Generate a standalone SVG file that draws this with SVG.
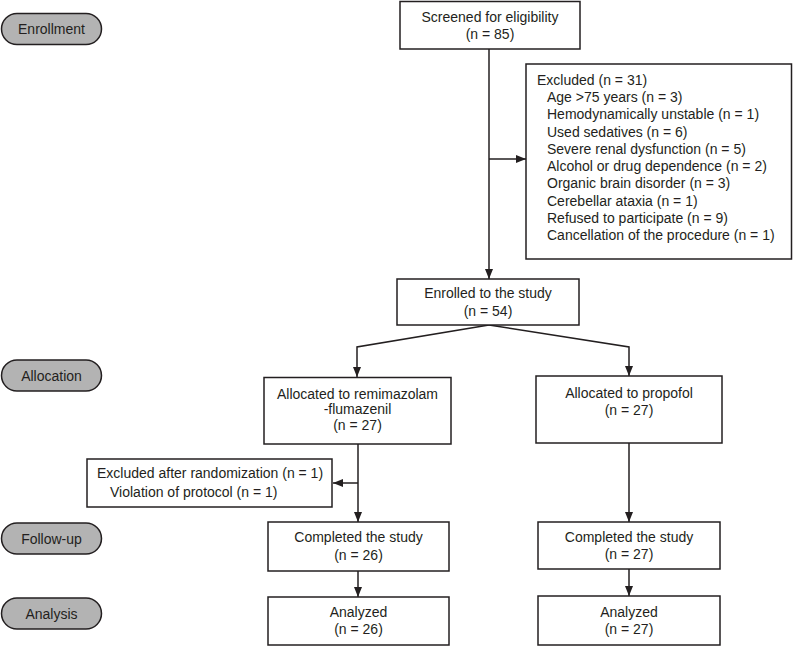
<svg xmlns="http://www.w3.org/2000/svg" width="793" height="648" viewBox="0 0 793 648">
<style>
text{font-family:"Liberation Sans",Arial,sans-serif;font-size:14px;fill:#231f20}
.c{text-anchor:middle}
.box{fill:#fff;stroke:#231f20;stroke-width:1.5}
.pill{fill:#b3b3b3;stroke:#231f20;stroke-width:1.5}
.ln{fill:none;stroke:#231f20;stroke-width:1.5}
</style>
<defs>
<marker id="ah" viewBox="0 0 10 8" refX="10" refY="4" markerWidth="10" markerHeight="8" markerUnits="userSpaceOnUse" orient="auto">
<path d="M0,0 L10,4 L0,8 Z" fill="#231f20"/>
</marker>
</defs>
<rect width="793" height="648" fill="#fff"/>
<g id="connectors">
<path class="ln" d="M489,49 V279" marker-end="url(#ah)"/>
<path class="ln" d="M489,159 H526" marker-end="url(#ah)"/>
<path class="ln" d="M489,325 L357,347 V377" marker-end="url(#ah)"/>
<path class="ln" d="M489,325 L629,347 V376" marker-end="url(#ah)"/>
<path class="ln" d="M358,444 V522" marker-end="url(#ah)"/>
<path class="ln" d="M358,483 H333" marker-end="url(#ah)"/>
<path class="ln" d="M629,443 V522" marker-end="url(#ah)"/>
<path class="ln" d="M358,571 V597" marker-end="url(#ah)"/>
<path class="ln" d="M629,569 V596" marker-end="url(#ah)"/>
</g>
<g id="pill-enrollment"><rect class="pill" x="1.5" y="13.5" width="100" height="31" rx="15.5"/><text class="c" x="51.5" y="34">Enrollment</text></g>
<g id="pill-allocation"><rect class="pill" x="1.5" y="360" width="100" height="31" rx="15.5"/><text class="c" x="51.5" y="380.5">Allocation</text></g>
<g id="pill-followup"><rect class="pill" x="1.5" y="523" width="100" height="31" rx="15.5"/><text class="c" x="51.5" y="543.5">Follow-up</text></g>
<g id="pill-analysis"><rect class="pill" x="1.5" y="598" width="100" height="31" rx="15.5"/><text class="c" x="51.5" y="618.5">Analysis</text></g>
<g id="screened"><rect class="box" x="400" y="1.5" width="180" height="47.5"/><text class="c" x="490" y="22">Screened for eligibility</text><text class="c" x="490" y="39">(n = 85)</text></g>
<g id="excluded"><rect class="box" x="526" y="64" width="265.5" height="195"/>
<text x="537" y="84.5">Excluded (n = 31)</text>
<text x="547" y="102">Age &gt;75 years (n = 3)</text>
<text x="547" y="119.3">Hemodynamically unstable (n = 1)</text>
<text x="547" y="136.5">Used sedatives (n = 6)</text>
<text x="547" y="153.8">Severe renal dysfunction (n = 5)</text>
<text x="547" y="171">Alcohol or drug dependence (n = 2)</text>
<text x="547" y="188.3">Organic brain disorder (n = 3)</text>
<text x="547" y="205.5">Cerebellar ataxia (n = 1)</text>
<text x="547" y="222.8">Refused to participate (n = 9)</text>
<text x="547" y="240">Cancellation of the procedure (n = 1)</text>
</g>
<g id="enrolled"><rect class="box" x="397" y="279" width="182" height="46"/><text class="c" x="488" y="298">Enrolled to the study</text><text class="c" x="488" y="316">(n = 54)</text></g>
<g id="alloc-remi"><rect class="box" x="264" y="377.5" width="187" height="66.5"/><text class="c" x="357.5" y="398.5">Allocated to remimazolam</text><text class="c" x="357.5" y="414">-flumazenil</text><text class="c" x="357.5" y="429.5">(n = 27)</text></g>
<g id="alloc-prop"><rect class="box" x="536" y="376" width="186" height="67"/><text class="c" x="629" y="398">Allocated to propofol</text><text class="c" x="629" y="415">(n = 27)</text></g>
<g id="excluded-rand"><rect class="box" x="87" y="459" width="245" height="48"/><text x="97" y="478">Excluded after randomization (n = 1)</text><text x="110" y="497">Violation of protocol (n = 1)</text></g>
<g id="completed-remi"><rect class="box" x="268" y="522" width="181" height="49"/><text class="c" x="358.5" y="542">Completed the study</text><text class="c" x="358.5" y="560">(n = 26)</text></g>
<g id="completed-prop"><rect class="box" x="538" y="522" width="182" height="47"/><text class="c" x="629" y="542">Completed the study</text><text class="c" x="629" y="559">(n = 27)</text></g>
<g id="analyzed-remi"><rect class="box" x="268" y="597" width="181" height="48"/><text class="c" x="358.5" y="617">Analyzed</text><text class="c" x="358.5" y="634">(n = 26)</text></g>
<g id="analyzed-prop"><rect class="box" x="538" y="596" width="182" height="49"/><text class="c" x="629" y="617">Analyzed</text><text class="c" x="629" y="634">(n = 27)</text></g>
</svg>
